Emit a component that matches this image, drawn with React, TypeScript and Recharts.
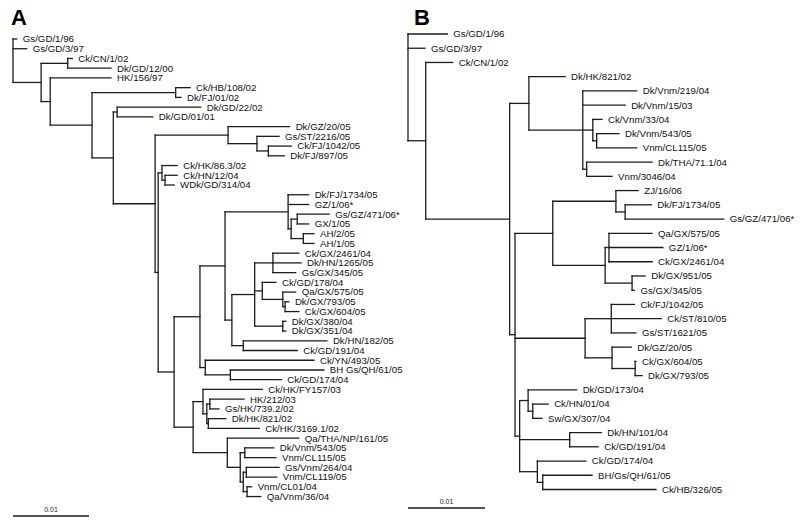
import { ComposedChart, Scatter, XAxis, YAxis, ReferenceLine } from 'recharts'

// [name, parent, distance from root (subst./site)]
type Row = [string, string, number]

const panels = ['A', 'B']
const scaleLen = 0.01
const scaleText = '0.01'

const aLeaves: Row[] = [
  ['Gs/GD/1/96', 'r', 0.0005],
  ['Gs/GD/3/97', 'r', 0.0018],
  ['Ck/CN/1/02', 'Y', 0.0078],
  ['Dk/GD/12/00', 'Y', 0.0129],
  ['HK/156/97', 'Z', 0.0129],
  ['Ck/HB/108/02', 'V', 0.0233],
  ['Dk/FJ/01/02', 'V', 0.0221],
  ['Dk/GD/22/02', 'T', 0.0247],
  ['Dk/GD/01/01', 'T', 0.0184],
  ['Dk/GZ/20/05', 'R', 0.0364],
  ['Gs/ST/2216/05', 'Q', 0.035],
  ['Ck/FJ/1042/05', 'P', 0.0366],
  ['Dk/FJ/897/05', 'P', 0.0357],
  ['Ck/HK/86.3/02', 'M', 0.0216],
  ['Ck/HN/12/04', 'L', 0.0216],
  ['WDk/GD/314/04', 'L', 0.0212],
  ['Dk/FJ/1734/05', 'J', 0.0389],
  ['GZ/1/06*', 'J', 0.0389],
  ['Gs/GZ/471/06*', 'H', 0.0416],
  ['GX/1/05', 'H', 0.0389],
  ['AH/2/05', 'G', 0.0396],
  ['AH/1/05', 'G', 0.0396],
  ['Ck/GX/2461/04', 'Z1', 0.0376],
  ['Dk/HN/1265/05', 'Z1', 0.0379],
  ['Gs/GX/345/05', 'Z1', 0.0372],
  ['Ck/GD/178/04', 'Y1', 0.0346],
  ['Qa/GX/575/05', 'X1', 0.0372],
  ['Dk/GX/793/05', 'X2', 0.0363],
  ['Ck/GX/604/05', 'X2', 0.0376],
  ['Dk/GX/380/04', 'W1', 0.0359],
  ['Dk/GX/351/04', 'W1', 0.0359],
  ['Dk/HN/182/05', 'A2', 0.0413],
  ['Ck/GD/191/04', 'A2', 0.0374],
  ['Ck/YN/493/05', 'D', 0.0396],
  ['BH Gs/QH/61/05', 'C', 0.0409],
  ['Ck/GD/174/04', 'C', 0.0353],
  ['Ck/HK/FY157/03', 'H1', 0.0328],
  ['HK/212/03', 'H3', 0.0304],
  ['Gs/HK/739.2/02', 'H3', 0.0271],
  ['Dk/HK/821/02', 'H4', 0.028],
  ['Ck/HK/3169.1/02', 'H4', 0.0324],
  ['Qa/THA/NP/161/05', 'V1', 0.0376],
  ['Dk/Vnm/543/05', 'V3', 0.0343],
  ['Vnm/CL115/05', 'V3', 0.0346],
  ['Gs/Vnm/264/04', 'V5', 0.035],
  ['Vnm/CL119/05', 'V5', 0.0347],
  ['Vnm/CL01/04', 'V6', 0.0314],
  ['Qa/Vnm/36/04', 'V6', 0.0326],
]

const aNodes: Row[] = [
  ['r', '', 0],
  ['X', 'r', 0.0037],
  ['Y', 'X', 0.0072],
  ['Z', 'X', 0.0049],
  ['W', 'Z', 0.0104],
  ['V', 'W', 0.0214],
  ['U', 'W', 0.0132],
  ['T', 'U', 0.0137],
  ['S', 'U', 0.0187],
  ['R', 'S', 0.0283],
  ['Q', 'R', 0.0321],
  ['P', 'Q', 0.0336],
  ['N', 'S', 0.0191],
  ['M', 'N', 0.0196],
  ['L', 'M', 0.02],
  ['O', 'N', 0.0212],
  ['F', 'O', 0.0246],
  ['E', 'F', 0.0279],
  ['J', 'E', 0.0362],
  ['I', 'J', 0.0366],
  ['H', 'I', 0.0374],
  ['G', 'I', 0.0382],
  ['B', 'E', 0.0288],
  ['A1', 'B', 0.0318],
  ['Z1', 'A1', 0.0342],
  ['Y1', 'A1', 0.0328],
  ['X1', 'Y1', 0.0355],
  ['X2', 'X1', 0.0358],
  ['W1', 'A1', 0.0355],
  ['A2', 'B', 0.0303],
  ['D', 'F', 0.0253],
  ['C', 'D', 0.0286],
  ['P1', 'O', 0.0237],
  ['H1', 'P1', 0.025],
  ['H2', 'H1', 0.0255],
  ['H3', 'H2', 0.0259],
  ['H4', 'H2', 0.0257],
  ['V1', 'P1', 0.0282],
  ['V2', 'V1', 0.0299],
  ['V3', 'V2', 0.0305],
  ['V4', 'V2', 0.0303],
  ['V5', 'V4', 0.0307],
  ['V6', 'V4', 0.0308],
]

const bLeaves: Row[] = [
  ['Gs/GD/1/96', 'r', 0.0051],
  ['Gs/GD/3/97', 'r', 0.0022],
  ['Ck/CN/1/02', 'n1', 0.0058],
  ['Dk/HK/821/02', 'n3', 0.0204],
  ['Dk/Vnm/219/04', 'n5', 0.0297],
  ['Dk/Vnm/15/03', 'n5', 0.0282],
  ['Ck/Vnm/33/04', 'n6', 0.0252],
  ['Dk/Vnm/543/05', 'n8', 0.0274],
  ['Vnm/CL115/05', 'n8', 0.0297],
  ['Dk/THA/71.1/04', 'n7', 0.0317],
  ['Vnm/3046/04', 'n7', 0.0265],
  ['ZJ/16/06', 'n9', 0.0299],
  ['Dk/FJ/1734/05', 'n10', 0.0316],
  ['Gs/GZ/471/06*', 'n10', 0.041],
  ['Qa/GX/575/05', 'n13', 0.0317],
  ['GZ/1/06*', 'n13', 0.0331],
  ['Ck/GX/2461/04', 'n13', 0.0317],
  ['Dk/GX/951/05', 'n14', 0.0308],
  ['Gs/GX/345/05', 'n14', 0.0294],
  ['Ck/FJ/1042/05', 'n18', 0.0294],
  ['Ck/ST/810/05', 'n18', 0.0329],
  ['Gs/ST/1621/05', 'n18', 0.0296],
  ['Dk/GZ/20/05', 'n19', 0.029],
  ['Ck/GX/604/05', 'n20', 0.0296],
  ['Dk/GX/793/05', 'n20', 0.0304],
  ['Dk/GD/173/04', 'n21', 0.0219],
  ['Ck/HN/01/04', 'n23', 0.0182],
  ['Sw/GX/307/04', 'n23', 0.0174],
  ['Dk/HN/101/04', 'n27', 0.0251],
  ['Ck/GD/191/04', 'n27', 0.0247],
  ['Ck/GD/174/04', 'n24', 0.0231],
  ['BH/Gs/QH/61/05', 'n25', 0.0239],
  ['Ck/HB/326/05', 'n25', 0.0322],
]

const bNodes: Row[] = [
  ['r', '', 0],
  ['n1', 'r', 0.0023],
  ['n2', 'n1', 0.0132],
  ['n3', 'n2', 0.0157],
  ['n5', 'n3', 0.0227],
  ['n6', 'n5', 0.024],
  ['n8', 'n6', 0.0245],
  ['n7', 'n5', 0.0232],
  ['n4', 'n2', 0.0139],
  ['n11', 'n4', 0.0188],
  ['n9', 'n11', 0.027],
  ['n10', 'n9', 0.0282],
  ['n12', 'n11', 0.0256],
  ['n13', 'n12', 0.0261],
  ['n14', 'n12', 0.0291],
  ['n16', 'n4', 0.023],
  ['n18', 'n16', 0.0264],
  ['n19', 'n16', 0.0265],
  ['n20', 'n19', 0.0295],
  ['n17', 'n4', 0.0145],
  ['n21', 'n17', 0.0156],
  ['n23', 'n21', 0.0162],
  ['n27', 'n17', 0.021],
  ['n24', 'n17', 0.0168],
  ['n25', 'n24', 0.0175],
]

type Pt = { x: number; y: number }

function buildTree(leaves: Row[], nodes: Row[]) {
  const all = [
    ...leaves.map(([id, parent, x], i) => ({ id, parent, x, leaf: i })),
    ...nodes.map(([id, parent, x]) => ({ id, parent, x, leaf: -1 })),
  ]
  const byId = new Map(all.map((n) => [n.id, n]))
  const kids = (id: string) => all.filter((n) => n.parent === id)
  const yOf = new Map<string, number>()
  const getY = (n: any): number => {
    if (yOf.has(n.id)) return yOf.get(n.id) as number
    let y = n.leaf
    if (n.leaf < 0) {
      const ys = kids(n.id).map(getY)
      y = (Math.min(...ys) + Math.max(...ys)) / 2
    }
    yOf.set(n.id, y)
    return y
  }
  all.forEach(getY)

  const segs: [Pt, Pt][] = []
  all.forEach((n) => {
    const y = yOf.get(n.id) as number
    if (n.parent) {
      const p = byId.get(n.parent)!
      segs.push([{ x: p.x, y }, { x: n.x, y }])
    }
    if (n.leaf < 0) {
      const ys = kids(n.id).map((k) => yOf.get(k.id) as number)
      segs.push([{ x: n.x, y: Math.min(...ys) }, { x: n.x, y: Math.max(...ys) }])
    }
  })
  const labels = leaves.map(([name, , x], i) => ({ x, y: i, name }))
  return { segs, labels }
}

const LINE = '#1c1c1c'
const FONT = '"Liberation Sans", Arial, Helvetica, sans-serif'

const leafLabel = (p: any) => (
  <text x={p.cx + 6} y={p.cy} dy="0.35em" fontSize={9.7} fontFamily={FONT} fill="#111">
    {p.payload.name}
  </text>
)

const scaleLabel = (p: any) => (
  <text x={p.cx} y={p.cy - 4} textAnchor="middle" fontSize={7} fontFamily={FONT} fill="#222">
    {p.payload.name}
  </text>
)

interface TreeProps {
  leaves: Row[]
  nodes: Row[]
  width: number
  plotW: number
  left: number
  top: number
  bottom: number
  yMax: number
}

function Tree({ leaves, nodes, width, plotW, left, top, bottom, yMax }: TreeProps) {
  const { segs, labels } = buildTree(leaves, nodes)
  const bar = [{ x: scaleLen / 2, y: yMax, name: scaleText }]
  // plotW px covers 0.05 subst./site; the rest of the width only holds labels
  return (
    <ComposedChart
      width={width}
      height={529}
      margin={{ top, right: width - left - plotW, bottom, left }}
      style={{ overflow: 'visible' }}
    >
      <XAxis type="number" dataKey="x" domain={[0, 0.05]} hide />
      <YAxis type="number" dataKey="y" domain={[0, yMax]} reversed hide />
      {segs.map((s, i) => (
        <ReferenceLine
          key={i}
          segment={s}
          stroke={LINE}
          strokeWidth={1.3}
          strokeLinecap="square"
          ifOverflow="visible"
        />
      ))}
      <ReferenceLine
        segment={[{ x: 0, y: yMax }, { x: scaleLen, y: yMax }]}
        stroke={LINE}
        strokeWidth={1.3}
        ifOverflow="visible"
      />
      <Scatter data={labels} shape={leafLabel} isAnimationActive={false} />
      <Scatter data={bar} shape={scaleLabel} isAnimationActive={false} />
    </ComposedChart>
  )
}

const panelStyle = (x: number): React.CSSProperties => ({
  position: 'absolute',
  left: x,
  top: 7,
  fontFamily: FONT,
  fontWeight: 'bold',
  fontSize: 22,
  lineHeight: '22px',
  color: '#000',
})

export default function App() {
  return (
    <div style={{ position: 'absolute', left: 0, top: 0, width: 800, height: 529, background: '#fff' }}>
      <div style={{ position: 'absolute', left: 0, top: 0 }}>
        <Tree leaves={aLeaves} nodes={aNodes} width={405} plotW={380} left={13} top={39} bottom={13} yMax={49} />
      </div>
      <div style={{ position: 'absolute', left: 400, top: 0 }}>
        <Tree leaves={bLeaves} nodes={bNodes} width={400} plotW={385} left={8} top={34} bottom={21} yMax={33.3} />
      </div>
      <div style={panelStyle(11)}>{panels[0]}</div>
      <div style={panelStyle(414)}>{panels[1]}</div>
    </div>
  )
}
